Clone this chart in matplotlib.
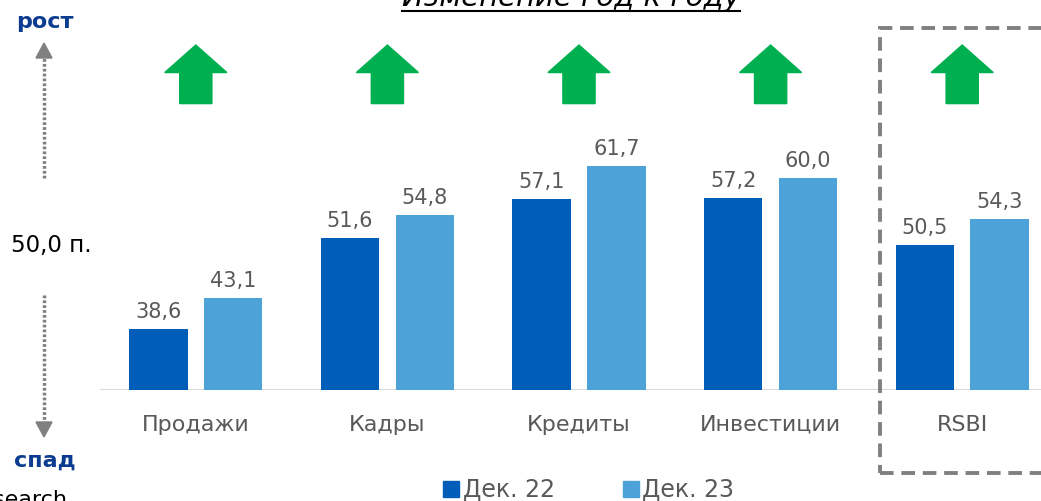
import matplotlib
matplotlib.use("Agg")
import matplotlib.pyplot as plt
from matplotlib.patches import Polygon, Rectangle
from matplotlib.lines import Line2D

# --- данные ---
categories = ["Продажи", "Кадры", "Кредиты", "Инвестиции", "RSBI"]
dec22 = [38.6, 51.6, 57.1, 57.2, 50.5]
dec23 = [43.1, 54.8, 61.7, 60.0, 54.3]
trend = ["up", "up", "up", "up", "up"]
series_names = ["Дек. 22", "Дек. 23"]

DARK = "#005EB8"
LIGHT = "#4DA3D8"
GREEN = "#00B050"
NAVY = "#0B3C8F"
GREY_TXT = "#595959"

plt.rcParams['font.family'] = ['DejaVu Sans']

W, H = 1041, 501
fig = plt.figure(figsize=(W / 100, H / 100), dpi=100)

def fx(px):
    return px / W

def fy(py):
    return 1 - py / H

# ось: базовая линия на y=390 px, группы через 191.5 px
ax = fig.add_axes([fx(100), fy(390), fx(958), 388 / H])
ax.set_xlim(-0.5, 4.5)
ax.set_ylim(30, 85)
ax.axis("off")
ax.axhline(30, color="#D9D9D9", lw=1.5, zorder=1)

x = list(range(len(categories)))
bw, off = 0.305, 0.195
b1 = ax.bar([i - off for i in x], dec22, width=bw, color=DARK, zorder=2)
b2 = ax.bar([i + off for i in x], dec23, width=bw, color=LIGHT, zorder=2)

for bars, vals in ((b1, dec22), (b2, dec23)):
    for r, v in zip(bars, vals):
        ax.annotate(f"{v:.1f}".replace(".", ","),
                    (r.get_x() + r.get_width() / 2, v),
                    xytext=(0, 5), textcoords="offset points",
                    ha="center", va="bottom", fontsize=15, color=GREY_TXT)

for i, c in enumerate(categories):
    ax.annotate(c, (i, 30), xytext=(0, -25), textcoords="offset points",
                ha="center", va="center", fontsize=16, color=GREY_TXT)

# стрелки тренда
hw, sw = 0.162, 0.084
for i, t in enumerate(trend):
    if t == "up":
        pts = [(i - sw, 70.6), (i - sw, 75.0), (i - hw, 75.0), (i, 78.9),
               (i + hw, 75.0), (i + sw, 75.0), (i + sw, 70.6)]
        ax.add_patch(Polygon(pts, closed=True, color=GREEN, zorder=3,
                             clip_on=False))

# заголовок (обрезан сверху)
title = fig.text(fx(571), fy(6), "Изменение год к году", ha="center",
                 va="baseline", fontsize=21, style="italic", color="black")
fig.canvas.draw()
bb = title.get_window_extent()
fig.add_artist(Line2D([bb.x0 / W, bb.x1 / W], [fy(10.5), fy(10.5)],
                      transform=fig.transFigure, color="black", lw=1.5))

# левая шкала
fig.text(fx(45), fy(22), "рост", ha="center", va="center", fontsize=16,
         fontweight="bold", color=NAVY)
fig.text(fx(45), fy(461), "спад", ha="center", va="center", fontsize=16,
         fontweight="bold", color=NAVY)
fig.text(fx(51), fy(245), "50,0 п.", ha="center", va="center", fontsize=16.5,
         color="black")
fig.text(fx(68), fy(500), "Research", ha="right", va="center", fontsize=16,
         color="black")

for y0, y1 in ((178, 43), (295, 437)):
    d = -1 if y1 < y0 else 1
    fig.add_artist(Line2D([fx(44), fx(44)], [fy(y0), fy(y1 - d * 12)],
                          transform=fig.transFigure, color="#808080", lw=2.5,
                          linestyle=(0, (0.8, 0.6))))
    tri = [(fx(44 - 8), fy(y1 - d * 15)), (fx(44 + 8), fy(y1 - d * 15)),
           (fx(44), fy(y1))]
    fig.add_artist(Polygon(tri, closed=True, transform=fig.transFigure,
                           color="#808080"))

# пунктирная рамка RSBI
fig.add_artist(Rectangle((fx(880), fy(473)), fx(200), (473 - 28) / H,
                         transform=fig.transFigure, fill=False,
                         edgecolor="#808080", lw=2.8,
                         linestyle=(0, (3.5, 2))))

# легенда
handles = [Line2D([], [], marker="s", linestyle="", markersize=11, color=c)
           for c in (DARK, LIGHT)]
fig.legend(handles, series_names, loc="center", ncol=2, frameon=False,
           bbox_to_anchor=(fx(588), fy(490)), fontsize=17,
           handlelength=0.8, handletextpad=0.1, columnspacing=2.8,
           labelcolor=GREY_TXT)

fig.savefig("out.png", dpi=100)
